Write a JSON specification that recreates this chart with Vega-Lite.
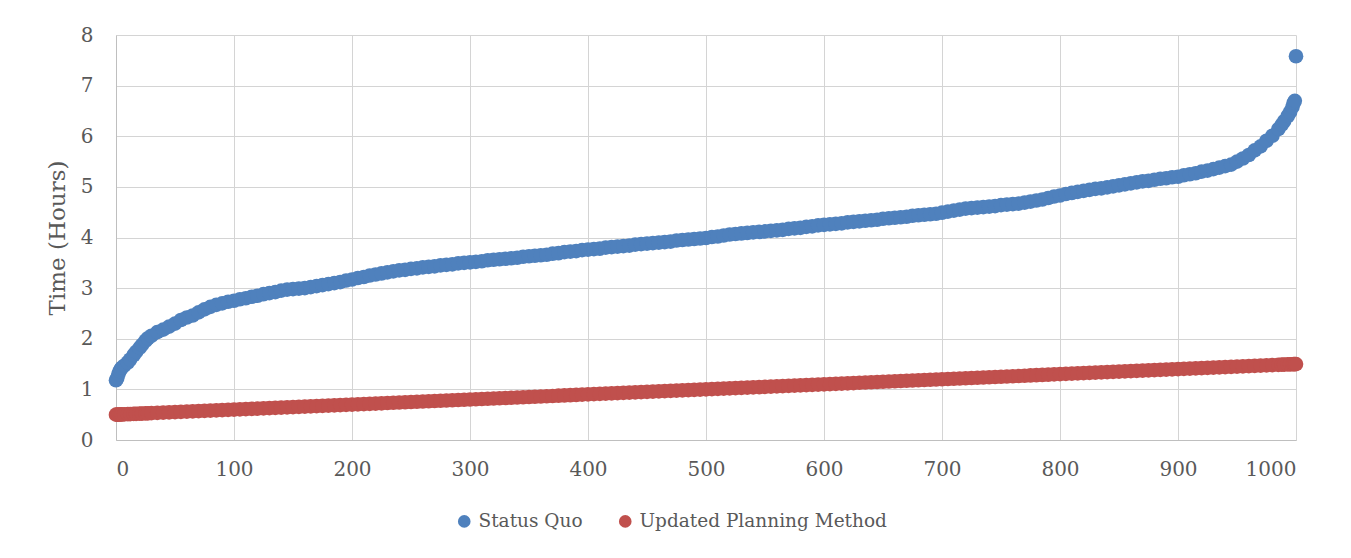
{
  "$schema": "https://vega.github.io/schema/vega-lite/v6.json",
  "width": 1180,
  "height": 405,
  "autosize": "none",
  "padding": {"left": 116, "top": 35, "right": 55, "bottom": 118},
  "background": "white",
  "data": {
    "values": [
      {"n":0,"sq":1.18,"up":0.5},{"n":1,"sq":1.22,"up":0.501},{"n":2,"sq":1.3,"up":0.502},{"n":3,"sq":1.36,"up":0.503},{"n":4,"sq":1.4,"up":0.504},{"n":5,"sq":1.43,"up":0.505},{"n":7,"sq":1.47,"up":0.507},
      {"n":10,"sq":1.53,"up":0.51},{"n":12,"sq":1.59,"up":0.512},{"n":15,"sq":1.68,"up":0.515},{"n":17,"sq":1.74,"up":0.517},{"n":20,"sq":1.82,"up":0.52},{"n":22,"sq":1.88,"up":0.522},{"n":25,"sq":1.96,"up":0.525},{"n":27,"sq":2.01,"up":0.527},{"n":30,"sq":2.06,"up":0.53},{"n":35,"sq":2.13,"up":0.535},{"n":40,"sq":2.18,"up":0.54},{"n":45,"sq":2.24,"up":0.545},
      {"n":50,"sq":2.3,"up":0.55},{"n":55,"sq":2.37,"up":0.555},{"n":60,"sq":2.42,"up":0.56},{"n":65,"sq":2.46,"up":0.565},{"n":70,"sq":2.52,"up":0.57},{"n":75,"sq":2.58,"up":0.575},{"n":80,"sq":2.63,"up":0.58},{"n":85,"sq":2.67,"up":0.585},{"n":90,"sq":2.7,"up":0.59},{"n":95,"sq":2.73,"up":0.595},
      {"n":100,"sq":2.75,"up":0.6},{"n":105,"sq":2.78,"up":0.605},{"n":110,"sq":2.8,"up":0.61},{"n":115,"sq":2.83,"up":0.615},{"n":120,"sq":2.85,"up":0.62},{"n":125,"sq":2.88,"up":0.625},{"n":130,"sq":2.9,"up":0.63},{"n":135,"sq":2.92,"up":0.635},{"n":140,"sq":2.95,"up":0.64},{"n":145,"sq":2.97,"up":0.645},
      {"n":150,"sq":2.98,"up":0.65},{"n":155,"sq":2.99,"up":0.655},{"n":160,"sq":3.0,"up":0.66},{"n":165,"sq":3.02,"up":0.665},{"n":170,"sq":3.04,"up":0.67},{"n":175,"sq":3.06,"up":0.675},{"n":180,"sq":3.08,"up":0.68},{"n":185,"sq":3.1,"up":0.685},{"n":190,"sq":3.12,"up":0.69},{"n":195,"sq":3.15,"up":0.695},
      {"n":200,"sq":3.17,"up":0.7},{"n":205,"sq":3.2,"up":0.705},{"n":210,"sq":3.22,"up":0.71},{"n":215,"sq":3.25,"up":0.715},{"n":220,"sq":3.27,"up":0.72},{"n":225,"sq":3.29,"up":0.725},{"n":230,"sq":3.31,"up":0.73},{"n":235,"sq":3.33,"up":0.735},{"n":240,"sq":3.35,"up":0.74},{"n":245,"sq":3.36,"up":0.745},
      {"n":250,"sq":3.38,"up":0.75},{"n":255,"sq":3.39,"up":0.755},{"n":260,"sq":3.41,"up":0.76},{"n":265,"sq":3.42,"up":0.765},{"n":270,"sq":3.43,"up":0.77},{"n":275,"sq":3.45,"up":0.775},{"n":280,"sq":3.46,"up":0.78},{"n":285,"sq":3.47,"up":0.785},{"n":290,"sq":3.49,"up":0.79},{"n":295,"sq":3.5,"up":0.795},
      {"n":300,"sq":3.51,"up":0.8},{"n":305,"sq":3.52,"up":0.805},{"n":310,"sq":3.53,"up":0.81},{"n":315,"sq":3.55,"up":0.815},{"n":320,"sq":3.56,"up":0.82},{"n":325,"sq":3.57,"up":0.825},{"n":330,"sq":3.58,"up":0.83},{"n":335,"sq":3.59,"up":0.835},{"n":340,"sq":3.6,"up":0.84},{"n":345,"sq":3.62,"up":0.845},
      {"n":350,"sq":3.63,"up":0.85},{"n":355,"sq":3.64,"up":0.855},{"n":360,"sq":3.65,"up":0.86},{"n":365,"sq":3.66,"up":0.865},{"n":370,"sq":3.68,"up":0.87},{"n":375,"sq":3.69,"up":0.875},{"n":380,"sq":3.71,"up":0.88},{"n":385,"sq":3.72,"up":0.885},{"n":390,"sq":3.73,"up":0.89},{"n":395,"sq":3.75,"up":0.895},
      {"n":400,"sq":3.76,"up":0.9},{"n":405,"sq":3.77,"up":0.905},{"n":410,"sq":3.78,"up":0.91},{"n":415,"sq":3.8,"up":0.915},{"n":420,"sq":3.81,"up":0.92},{"n":425,"sq":3.82,"up":0.925},{"n":430,"sq":3.83,"up":0.93},{"n":435,"sq":3.84,"up":0.935},{"n":440,"sq":3.86,"up":0.94},{"n":445,"sq":3.87,"up":0.945},
      {"n":450,"sq":3.88,"up":0.95},{"n":455,"sq":3.89,"up":0.955},{"n":460,"sq":3.9,"up":0.96},{"n":465,"sq":3.91,"up":0.965},{"n":470,"sq":3.92,"up":0.97},{"n":475,"sq":3.94,"up":0.975},{"n":480,"sq":3.95,"up":0.98},{"n":485,"sq":3.96,"up":0.985},{"n":490,"sq":3.97,"up":0.99},{"n":495,"sq":3.98,"up":0.995},
      {"n":500,"sq":3.99,"up":1.0},{"n":505,"sq":4.01,"up":1.005},{"n":510,"sq":4.02,"up":1.01},{"n":515,"sq":4.04,"up":1.015},{"n":520,"sq":4.06,"up":1.02},{"n":525,"sq":4.07,"up":1.025},{"n":530,"sq":4.08,"up":1.03},{"n":535,"sq":4.09,"up":1.035},{"n":540,"sq":4.1,"up":1.04},{"n":545,"sq":4.11,"up":1.045},
      {"n":550,"sq":4.12,"up":1.05},{"n":555,"sq":4.13,"up":1.055},{"n":560,"sq":4.14,"up":1.06},{"n":565,"sq":4.15,"up":1.065},{"n":570,"sq":4.17,"up":1.07},{"n":575,"sq":4.18,"up":1.075},{"n":580,"sq":4.19,"up":1.08},{"n":585,"sq":4.21,"up":1.085},{"n":590,"sq":4.22,"up":1.09},{"n":595,"sq":4.24,"up":1.095},
      {"n":600,"sq":4.25,"up":1.1},{"n":605,"sq":4.26,"up":1.105},{"n":610,"sq":4.27,"up":1.11},{"n":615,"sq":4.28,"up":1.115},{"n":620,"sq":4.3,"up":1.12},{"n":625,"sq":4.31,"up":1.125},{"n":630,"sq":4.32,"up":1.13},{"n":635,"sq":4.33,"up":1.135},{"n":640,"sq":4.34,"up":1.14},{"n":645,"sq":4.35,"up":1.145},
      {"n":650,"sq":4.37,"up":1.15},{"n":655,"sq":4.38,"up":1.155},{"n":660,"sq":4.39,"up":1.16},{"n":665,"sq":4.4,"up":1.165},{"n":670,"sq":4.41,"up":1.17},{"n":675,"sq":4.43,"up":1.175},{"n":680,"sq":4.44,"up":1.18},{"n":685,"sq":4.45,"up":1.185},{"n":690,"sq":4.46,"up":1.19},{"n":695,"sq":4.47,"up":1.195},
      {"n":700,"sq":4.49,"up":1.2},{"n":705,"sq":4.51,"up":1.205},{"n":710,"sq":4.53,"up":1.21},{"n":715,"sq":4.55,"up":1.215},{"n":720,"sq":4.57,"up":1.22},{"n":725,"sq":4.58,"up":1.225},{"n":730,"sq":4.59,"up":1.23},{"n":735,"sq":4.6,"up":1.235},{"n":740,"sq":4.61,"up":1.24},{"n":745,"sq":4.62,"up":1.245},
      {"n":750,"sq":4.64,"up":1.25},{"n":755,"sq":4.65,"up":1.255},{"n":760,"sq":4.66,"up":1.26},{"n":765,"sq":4.67,"up":1.265},{"n":770,"sq":4.69,"up":1.27},{"n":775,"sq":4.71,"up":1.275},{"n":780,"sq":4.73,"up":1.28},{"n":785,"sq":4.75,"up":1.285},{"n":790,"sq":4.78,"up":1.29},{"n":795,"sq":4.81,"up":1.295},
      {"n":800,"sq":4.83,"up":1.3},{"n":805,"sq":4.86,"up":1.305},{"n":810,"sq":4.88,"up":1.31},{"n":815,"sq":4.9,"up":1.315},{"n":820,"sq":4.92,"up":1.32},{"n":825,"sq":4.94,"up":1.325},{"n":830,"sq":4.96,"up":1.33},{"n":835,"sq":4.97,"up":1.335},{"n":840,"sq":4.99,"up":1.34},{"n":845,"sq":5.01,"up":1.345},
      {"n":850,"sq":5.03,"up":1.35},{"n":855,"sq":5.05,"up":1.355},{"n":860,"sq":5.07,"up":1.36},{"n":865,"sq":5.09,"up":1.365},{"n":870,"sq":5.11,"up":1.37},{"n":875,"sq":5.12,"up":1.375},{"n":880,"sq":5.14,"up":1.38},{"n":885,"sq":5.16,"up":1.385},{"n":890,"sq":5.17,"up":1.39},{"n":895,"sq":5.19,"up":1.395},
      {"n":900,"sq":5.2,"up":1.4},{"n":905,"sq":5.23,"up":1.405},{"n":910,"sq":5.25,"up":1.41},{"n":915,"sq":5.27,"up":1.415},{"n":920,"sq":5.3,"up":1.42},{"n":925,"sq":5.32,"up":1.425},{"n":930,"sq":5.35,"up":1.43},{"n":935,"sq":5.38,"up":1.435},{"n":940,"sq":5.41,"up":1.44},{"n":945,"sq":5.44,"up":1.445},
      {"n":950,"sq":5.5,"up":1.45},{"n":955,"sq":5.56,"up":1.455},{"n":960,"sq":5.63,"up":1.46},{"n":965,"sq":5.72,"up":1.465},{"n":970,"sq":5.8,"up":1.47},{"n":975,"sq":5.91,"up":1.475},{"n":980,"sq":6.01,"up":1.48},{"n":985,"sq":6.14,"up":1.485},{"n":988,"sq":6.23,"up":1.488},{"n":990,"sq":6.3,"up":1.49},{"n":993,"sq":6.4,"up":1.493},
      {"n":995,"sq":6.48,"up":1.495},{"n":997,"sq":6.58,"up":1.497},{"n":998,"sq":6.66,"up":1.498},{"n":999,"sq":6.7,"up":1.499},{"n":1000,"sq":7.58,"up":1.5}
    ]
  },
  "transform": [
    {"fold": ["sq", "up"], "as": ["series", "hours"]}
  ],
  "mark": {"type": "circle", "size": 215, "opacity": 1, "strokeWidth": 0},
  "encoding": {
    "x": {
      "field": "n",
      "type": "quantitative",
      "scale": {"domain": [0, 1000], "nice": false, "zero": false},
      "axis": {
        "title": null,
        "format": "d",
        "values": [0, 100, 200, 300, 400, 500, 600, 700, 800, 900, 1000],
        "labelPadding": 19
      }
    },
    "y": {
      "field": "hours",
      "type": "quantitative",
      "scale": {"domain": [0, 8], "nice": false},
      "axis": {
        "title": "Time (Hours)",
        "values": [0, 1, 2, 3, 4, 5, 6, 7, 8],
        "labelPadding": 23,
        "titlePadding": 11,
        "titleFontSize": 23
      }
    },
    "color": {
      "field": "series",
      "type": "nominal",
      "scale": {"domain": ["sq", "up"], "range": ["#4F81BD", "#C0504D"]},
      "legend": {
        "title": null,
        "orient": "none",
        "legendX": 339,
        "legendY": 477,
        "direction": "horizontal",
        "labelExpr": "datum.value == 'sq' ? 'Status Quo' : 'Updated Planning Method'",
        "labelLimit": 400,
        "symbolType": "circle",
        "symbolSize": 160,
        "symbolStrokeWidth": 0,
        "labelFontSize": 18.5,
        "labelColor": "#595959",
        "labelOffset": 5,
        "columnPadding": 33
      }
    }
  },
  "config": {
    "font": "DejaVu Serif",
    "view": {"stroke": null},
    "axis": {
      "ticks": false,
      "grid": true,
      "gridColor": "#D4D4D4",
      "gridWidth": 1,
      "domainColor": "#BFBFBF",
      "domainWidth": 1,
      "labelFont": "DejaVu Serif",
      "labelFontSize": 20,
      "labelColor": "#595959",
      "titleFont": "DejaVu Serif",
      "titleFontWeight": "normal",
      "titleColor": "#595959"
    },
    "legend": {"labelFont": "DejaVu Serif"}
  }
}
